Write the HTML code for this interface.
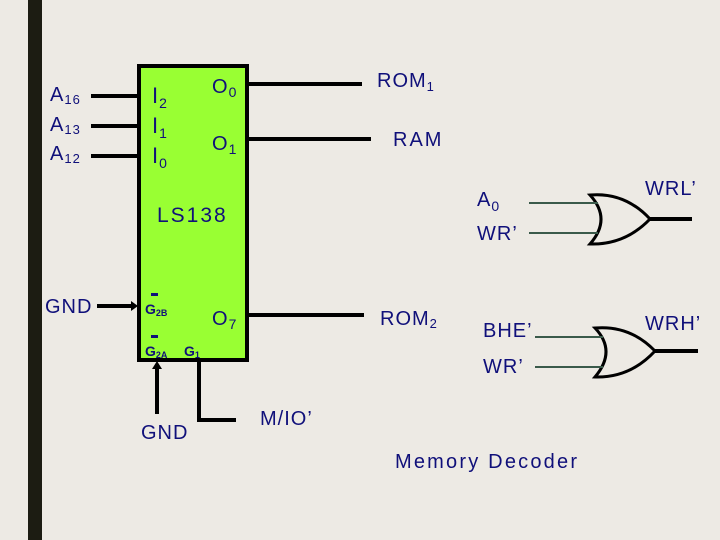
<!DOCTYPE html>
<html><head><style>
body{margin:0;background:#edeae4;}
svg{display:block}
text{font-family:"Liberation Sans",sans-serif;fill:#10107a;}
</style></head><body>
<svg width="720" height="540" viewBox="0 0 720 540">
<rect width="720" height="540" fill="#edeae4"/>
<rect x="28" y="0" width="14" height="540" fill="#1c1c12"/>
<rect x="139" y="66" width="108" height="294" fill="#99ff33" stroke="#000" stroke-width="4"/>
<g stroke="#000" stroke-width="4" fill="none">
<line x1="91" y1="96" x2="139" y2="96"/>
<line x1="91" y1="126" x2="139" y2="126"/>
<line x1="91" y1="156" x2="139" y2="156"/>
<line x1="247" y1="84" x2="362" y2="84"/>
<line x1="247" y1="139" x2="371" y2="139"/>
<line x1="247" y1="315" x2="364" y2="315"/>
<line x1="97" y1="306" x2="132" y2="306"/>
<line x1="157" y1="414" x2="157" y2="368"/>
<polyline points="199,362 199,420 236,420"/>
<line x1="650" y1="219" x2="692" y2="219"/>
<line x1="655" y1="351" x2="698" y2="351"/>
<path d="M590,195 Q625,192 650,219 Q625,245 590,244 Q612,219 590,195Z" stroke-width="3"/>
<path d="M595,328 Q630,325 655,351 Q630,378 595,377 Q617,351 595,328Z" stroke-width="3"/>
</g>
<polygon points="138,306 131,301 131,311" fill="#000"/>
<polygon points="157,361 152,369 162,369" fill="#000"/>
<g stroke="#3a5a4a" stroke-width="2">
<line x1="529" y1="203" x2="598" y2="203"/>
<line x1="529" y1="233" x2="598" y2="233"/>
<line x1="535" y1="337" x2="603" y2="337"/>
<line x1="535" y1="367" x2="603" y2="367"/>
</g>
<g font-size="20" letter-spacing="1">
<text x="50" y="101">A<tspan font-size="13" dy="3">16</tspan></text>
<text x="50" y="131">A<tspan font-size="13" dy="3">13</tspan></text>
<text x="50" y="160">A<tspan font-size="13" dy="3">12</tspan></text>
<text x="152" y="103" font-family="Liberation Serif" font-size="22">I<tspan font-size="14" dy="5">2</tspan></text>
<text x="152" y="133" font-family="Liberation Serif" font-size="22">I<tspan font-size="14" dy="5">1</tspan></text>
<text x="152" y="163" font-family="Liberation Serif" font-size="22">I<tspan font-size="14" dy="5">0</tspan></text>
<text x="212" y="93">O<tspan font-size="14" dy="4">0</tspan></text>
<text x="212" y="150">O<tspan font-size="14" dy="4">1</tspan></text>
<text x="212" y="325">O<tspan font-size="14" dy="4">7</tspan></text>
<text x="157" y="222" font-size="21" letter-spacing="2">LS138</text>
<text x="377" y="87">ROM<tspan font-size="13" dy="4">1</tspan></text>
<text x="393" y="146" letter-spacing="2">RAM</text>
<text x="380" y="325">ROM<tspan font-size="13" dy="3">2</tspan></text>
<text x="45" y="313">GND</text>
<text x="141" y="439">GND</text>
<text x="260" y="425">M/IO’</text>
<text x="477" y="206">A<tspan font-size="14" dy="5">0</tspan></text>
<text x="477" y="240">WR’</text>
<text x="483" y="337">BHE’</text>
<text x="483" y="373">WR’</text>
<text x="645" y="195">WRL’</text>
<text x="645" y="330">WRH’</text>
<text x="395" y="468" letter-spacing="2.2">Memory Decoder</text>
</g>
<g font-size="14" font-weight="bold">
<text x="145" y="314">G<tspan font-size="9" dy="2">2B</tspan></text>
<text x="145" y="356">G<tspan font-size="9" dy="2">2A</tspan></text>
<text x="184" y="356">G<tspan font-size="9" dy="2">1</tspan></text>
</g>
<rect x="151" y="293" width="7" height="3" fill="#10107a"/>
<rect x="151" y="335" width="7" height="3" fill="#10107a"/>
</svg>
</body></html>
